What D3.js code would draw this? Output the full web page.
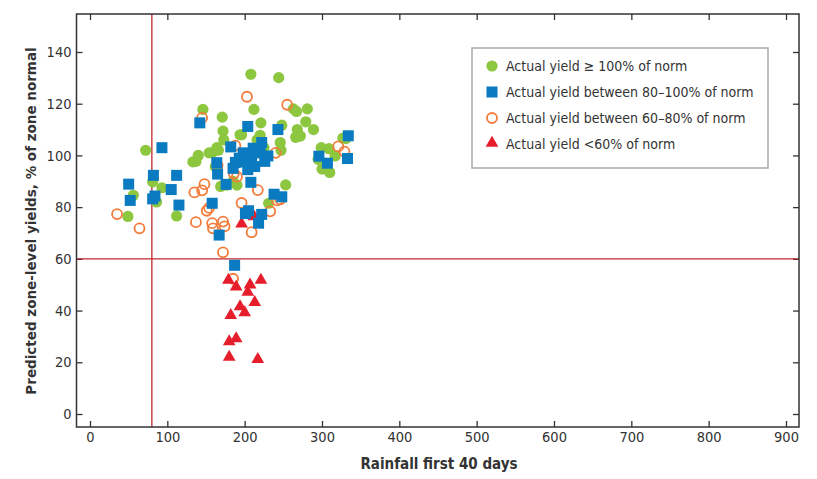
<!DOCTYPE html>
<html>
<head>
<meta charset="utf-8">
<script src="https://cdn.jsdelivr.net/npm/d3@7"></script>
<style>
  body { margin: 0; background: #fff; }
  text { font-family: "DejaVu Sans Condensed", "Liberation Sans Narrow", sans-serif; }
</style>
</head>
<body>
<svg width="817" height="479"></svg>
<script>
// data: [rainfall, predicted yield]
var green = [[72,102],[49,76.4],[56,84.6],[81,89.8],[86,82],[93,87.5],[112,76.6],[146,117.8],
  [140,100],[137,97.7],[133,97.5],[171,114.8],[172,109.4],[173,106],[158,101],[164,103],
  [162,95.6],[154,101],[166,102],[169,88],[177,88.5],[190,88.5],[185,90],[196,108],[194,108],
  [208,131.4],[244,130.1],[212,117.8],[221,112.6],[220,107.8],[216,106],[225,103],[248,111.7],
  [246,105],[247,102],[253,88.6],[231,81.5],[263,118],[267,117],[281,118],[279,113],[268,110],
  [272,107.5],[289,110],[266,107],[299,103],[295,98.5],[300,94.7],[310,93.4],[317,99.8],
  [309,102.6],[331,106.5],[327,106.7]];

var orange = [[35,77.3],[64,71.8],[145,114.5],[135,85.7],[145,86.5],[148,88.9],[151,78.6],
  [154,79.7],[137,74.2],[159,71.8],[172,74.4],[174,72.6],[172,62.5],[165,96.2],[196,81.6],
  [203,122.7],[188,103.8],[186,93],[190,91.8],[212,96],[217,86.6],[209,70.3],[255,119.6],
  [240,101],[242,82.6],[233,78.4],[246,83],[321,103.5],[329,101.5],[185,52.3],[158,73.8]];

var red = [[196,73.2],[212,76],[179,51.4],[189,48.8],[207,49.6],[221,51.4],[204,46.8],
  [213,42.8],[194,41.2],[200,38.8],[182,37.8],[189,28.8],[180,27.6],[180,21.6],[217,20.8]];

var blue = [[50,88.9],[52,82.6],[82,92.3],[84,84.3],[81,83.2],[93,103],[105,86.8],[112,92.3],
  [115,80.8],[142,112.6],[158,81.5],[164,97.2],[165,92.8],[167,69.2],[176,88.8],[182,103.3],
  [185,95],[188,97.3],[193,98.9],[187,57.5],[198,101],[204,111.2],[204,94.5],[208,89.6],
  [211,102.8],[209,99.5],[213,95.7],[222,105],[230,99.8],[226,97.7],[203,98.2],[220,101],
  [200,97.5],[201,77.5],[205,78.6],[222,77.2],[218,73.8],[243,110],[238,85],[248,84],
  [296,99.7],[307,97],[334,107.6],[333,98.8]];

var xTicks = [0,100,200,300,400,500,600,700,800,900];
var yTicks = [0,20,40,60,80,100,120,140];
var rainLine = 80, yieldLine = 60;

var legendLabels = ["Actual yield \u2265 100% of norm", "Actual yield between 80\u2013100% of norm",
  "Actual yield between 60\u201380% of norm", "Actual yield <60% of norm"];

var cGreen = "#8dc63f", cBlue = "#0a7bc1", cOrange = "#f37c3b", cRed = "#e61e2b", cLine = "#c0272d";

function main() {
  var svg = d3.select("svg");
  var left = 76.5, right = 799, top = 14, bottom = 427;

  var x = d3.scaleLinear().domain([0, 900]).range([90, 786]);
  var y = d3.scaleLinear().domain([0, 140]).range([414, 52]);

  // axes with inward ticks on all four sides
  function styleAxis(g) {
    g.select(".domain").remove();
    g.selectAll(".tick line").attr("stroke", "#333").attr("stroke-width", 1.3);
    g.selectAll(".tick text").attr("font-size", "14.5px").attr("fill", "#333")
      .attr("font-family", "'DejaVu Sans Condensed', sans-serif");
  }
  svg.append("g").attr("transform", "translate(" + left + ",0)")
    .call(d3.axisLeft(y).tickValues(yTicks).tickSizeInner(-6).tickPadding(5)).call(styleAxis);
  svg.append("g").attr("transform", "translate(" + right + ",0)")
    .call(d3.axisRight(y).tickValues(yTicks).tickSizeInner(-6).tickFormat("")).call(styleAxis);
  svg.append("g").attr("transform", "translate(0," + bottom + ")")
    .call(d3.axisBottom(x).tickValues(xTicks).tickSizeInner(-6).tickPadding(5)).call(styleAxis);
  svg.append("g").attr("transform", "translate(0," + top + ")")
    .call(d3.axisTop(x).tickValues(xTicks).tickSizeInner(-6).tickFormat("")).call(styleAxis);

  // reference lines
  svg.append("line")
    .attr("x1", x(rainLine)).attr("x2", x(rainLine)).attr("y1", top).attr("y2", bottom)
    .attr("stroke", cLine).attr("stroke-width", 1.3);
  svg.append("line")
    .attr("x1", left).attr("x2", right).attr("y1", y(yieldLine)).attr("y2", y(yieldLine))
    .attr("stroke", cLine).attr("stroke-width", 1.3);

  var plot = svg.append("g");

  plot.selectAll(".g").data(green).enter().append("circle")
    .attr("cx", function(d) { return x(d[0]); })
    .attr("cy", function(d) { return y(d[1]); })
    .attr("r", 5.6).attr("fill", cGreen);

  plot.selectAll(".o").data(orange).enter().append("circle")
    .attr("cx", function(d) { return x(d[0]); })
    .attr("cy", function(d) { return y(d[1]); })
    .attr("r", 5).attr("fill", "none").attr("stroke", cOrange).attr("stroke-width", 1.8);

  var tri = d3.symbol().type(d3.symbolTriangle).size(70);
  plot.selectAll(".r").data(red).enter().append("path")
    .attr("d", tri)
    .attr("transform", function(d) { return "translate(" + x(d[0]) + "," + (y(d[1]) - 1) + ")"; })
    .attr("fill", cRed);

  plot.selectAll(".b").data(blue).enter().append("rect")
    .attr("x", function(d) { return x(d[0]) - 5.5; })
    .attr("y", function(d) { return y(d[1]) - 5.5; })
    .attr("width", 11).attr("height", 11).attr("fill", cBlue);

  // frame
  svg.append("rect").attr("x", left).attr("y", top)
    .attr("width", right - left).attr("height", bottom - top)
    .attr("fill", "none").attr("stroke", "#333").attr("stroke-width", 1.5);

  // legend
  var lg = svg.append("g").attr("transform", "translate(472,48)");
  lg.append("rect").attr("width", 296).attr("height", 120)
    .attr("fill", "#fff").attr("stroke", "#aaa").attr("stroke-width", 1.5);
  var rows = lg.selectAll(".row").data(legendLabels).enter().append("g")
    .attr("transform", function(d, i) { return "translate(20," + (18 + i * 26) + ")"; });
  rows.append("text").attr("x", 14).attr("y", 5).attr("font-size", "14px").attr("fill", "#333")
    .text(function(d) { return d; });
  rows.each(function(d, i) {
    var r = d3.select(this);
    if (i == 0) r.append("circle").attr("r", 5.6).attr("fill", cGreen);
    if (i == 1) r.append("rect").attr("x", -5.5).attr("y", -5.5).attr("width", 11).attr("height", 11).attr("fill", cBlue);
    if (i == 2) r.append("circle").attr("r", 5).attr("fill", "none").attr("stroke", cOrange).attr("stroke-width", 1.8);
    if (i == 3) r.append("path").attr("d", tri).attr("transform", "translate(0,-1)").attr("fill", cRed);
  });

  // axis titles
  svg.append("text")
    .attr("x", 439).attr("y", 469)
    .attr("text-anchor", "middle").attr("font-size", "15px").attr("font-weight", "bold").attr("fill", "#333")
    .text("Rainfall first 40 days");
  svg.append("text")
    .attr("transform", "translate(36," + 221 + ") rotate(-90)")
    .attr("text-anchor", "middle").attr("font-size", "13.5px").attr("font-weight", "bold").attr("fill", "#333")
    .style("font-family", "'DejaVu Sans', Verdana, sans-serif")
    .text("Predicted zone-level yields, % of zone normal");
}
main();
</script>
</body>
</html>
